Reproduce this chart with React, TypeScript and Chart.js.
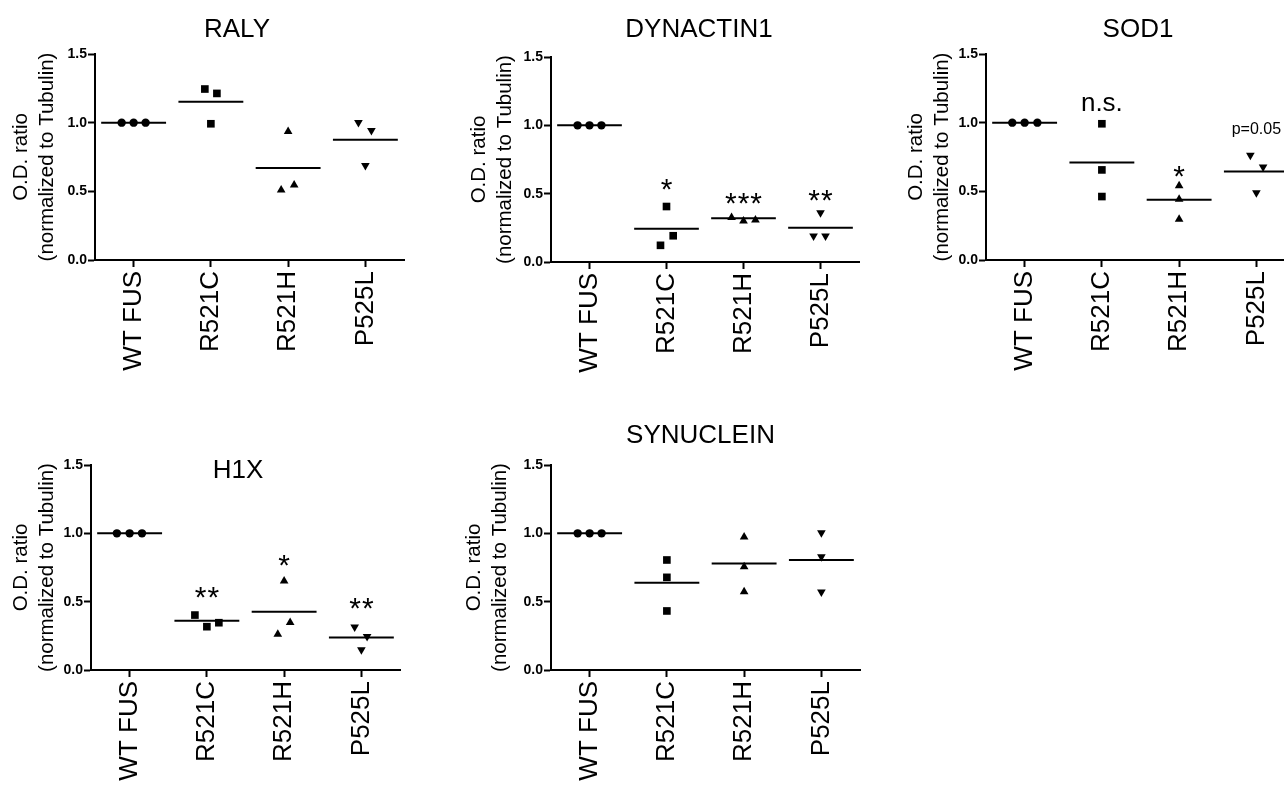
import React, { useEffect, useRef } from 'react';
import { Chart, registerables } from 'chart.js';

Chart.register(...registerables);

// ---------- data ----------
const categories = ['WT FUS', 'R521C', 'R521H', 'P525L'];
const yTickValues = [0, 0.5, 1.0, 1.5];

const ralyValues = [[1, 1, 1], [1.245, 1.213, 0.992], [0.936, 0.51, 0.547], [1.002, 0.943, 0.688]];
const ralyJitter = [[-0.155, 0, 0.155], [-0.078, 0.078, 0], [0, -0.09, 0.078], [-0.09, 0.078, 0]];
const ralyMeans = [1.0, 1.152, 0.669, 0.875];
const ralyMarks = [null, null, null, null];
const ralyMarkY = [null, null, null, null];

const dynactinValues = [[1, 1, 1], [0.406, 0.192, 0.122], [0.325, 0.3, 0.308], [0.36, 0.19, 0.19]];
const dynactinJitter = [[-0.155, 0, 0.155], [0, 0.087, -0.078], [-0.155, 0, 0.155], [0, -0.09, 0.065]];
const dynactinMeans = [1.0, 0.243, 0.321, 0.25];
const dynactinMarks = [null, '*', '***', '**'];
const dynactinMarkY = [null, 0.564, 0.467, 0.484];

const sod1Values = [[1, 1, 1], [0.992, 0.656, 0.462], [0.54, 0.443, 0.297], [0.763, 0.678, 0.49]];
const sod1Jitter = [[-0.16, 0, 0.165], [0, 0, 0], [0, 0, 0], [-0.078, 0.087, 0]];
const sod1Means = [1.0, 0.71, 0.438, 0.644];
const sod1Marks = [null, 'n.s.', '*', 'p=0.05'];
const sod1MarkY = [null, 1.136, 0.644, 0.95];

const h1xValues = [[1, 1, 1], [0.402, 0.317, 0.346], [0.652, 0.261, 0.347], [0.314, 0.246, 0.148]];
const h1xJitter = [[-0.165, 0, 0.16], [-0.155, 0, 0.155], [0, -0.082, 0.078], [-0.087, 0.074, 0]];
const h1xMeans = [1.0, 0.361, 0.427, 0.237];
const h1xMarks = [null, '**', '*', '**'];
const h1xMarkY = [null, 0.565, 0.8, 0.487];

const synucleinValues = [[1, 1, 1], [0.805, 0.678, 0.432], [0.973, 0.756, 0.573], [1.004, 0.829, 0.57]];
const synucleinJitter = [[-0.155, 0, 0.155], [0, 0, 0], [0, 0, 0], [0, 0, 0]];
const synucleinMeans = [1.0, 0.639, 0.78, 0.805];
const synucleinMarks = [null, null, null, null];
const synucleinMarkY = [null, null, null, null];

// ---------- styles / layout ----------
const FONT = "Arial, 'Liberation Sans', sans-serif";
const markerStyles = ['circle', 'rect', 'triangle', 'triangle'];
const markerRotations = [0, 0, 0, 180];
const markerRadii = [4.2, 5.4, 5, 5];
const MEAN_HALF = 0.42;
const YW = 92; // width reserved for y axis
const PT = 54; // top padding
const PR = 20; // right padding
const XH = 125; // x axis height

type Panel = {
  title: string;
  values: number[][];
  jitter: number[][];
  means: number[];
  marks: (string | null)[];
  markY: (number | null)[];
  rect: { L: number; T: number; R: number; B: number };
  titleDx: number;
  titleDy: number;
  yTitlePad: number;
};

const panels: Panel[] = [
  { title: 'RALY', values: ralyValues, jitter: ralyJitter, means: ralyMeans, marks: ralyMarks, markY: ralyMarkY,
    rect: { L: 95, T: 54, R: 404, B: 260 }, titleDx: -12.5, titleDy: -17.3, yTitlePad: 5 },
  { title: 'DYNACTIN1', values: dynactinValues, jitter: dynactinJitter, means: dynactinMeans, marks: dynactinMarks, markY: dynactinMarkY,
    rect: { L: 551, T: 57, R: 859, B: 262 }, titleDx: -6, titleDy: -20.3, yTitlePad: 7 },
  { title: 'SOD1', values: sod1Values, jitter: sod1Jitter, means: sod1Means, marks: sod1Marks, markY: sod1MarkY,
    rect: { L: 986, T: 54, R: 1295, B: 260 }, titleDx: -2.5, titleDy: -17.3, yTitlePad: 9 },
  { title: 'H1X', values: h1xValues, jitter: h1xJitter, means: h1xMeans, marks: h1xMarks, markY: h1xMarkY,
    rect: { L: 91, T: 465, R: 400, B: 670 }, titleDx: -7.5, titleDy: 13.3, yTitlePad: 9 },
  { title: 'SYNUCLEIN', values: synucleinValues, jitter: synucleinJitter, means: synucleinMeans, marks: synucleinMarks, markY: synucleinMarkY,
    rect: { L: 551, T: 465, R: 860, B: 670 }, titleDx: -5, titleDy: -21.7, yTitlePad: 2 },
];

function makeTextPlugin(panel: Panel) {
  return {
    id: 'panelText',
    afterDraw(chart: any) {
      const { ctx, chartArea, scales } = chart;
      ctx.save();
      ctx.fillStyle = '#000';
      ctx.textAlign = 'center';
      ctx.textBaseline = 'alphabetic';
      ctx.font = `26px ${FONT}`;
      ctx.fillText(panel.title, (chartArea.left + chartArea.right) / 2 + panel.titleDx, chartArea.top + panel.titleDy);
      panel.marks.forEach((m, i) => {
        const yv = panel.markY[i];
        if (!m || yv === null || yv === undefined) return;
        const isStar = /^\*+$/.test(m);
        const size = isStar ? 30 : m === 'n.s.' ? 26 : 16;
        const ls = isStar ? 1 : 0;
        ctx.font = `${size}px ${FONT}`;
        (ctx as any).letterSpacing = `${ls}px`;
        const met = ctx.measureText(m);
        const cy = scales.y.getPixelForValue(yv);
        const baseline = cy + (met.actualBoundingBoxAscent - met.actualBoundingBoxDescent) / 2;
        ctx.fillText(m, scales.x.getPixelForValue(i) + ls / 2, baseline);
        (ctx as any).letterSpacing = '0px';
      });
      ctx.restore();
    },
  };
}

function PanelChart({ panel }: { panel: Panel }) {
  const ref = useRef<HTMLCanvasElement>(null);
  const { L, T, R, B } = panel.rect;
  const left = L - YW;
  const top = T - PT;
  const width = R - L + YW + PR;
  const height = B - T + PT + XH;

  useEffect(() => {
    if (!ref.current) return;
    const datasets: any[] = [];
    categories.forEach((_, i) => {
      datasets.push({
        data: [{ x: i - MEAN_HALF, y: panel.means[i] }, { x: i + MEAN_HALF, y: panel.means[i] }],
        showLine: true,
        borderColor: '#000',
        borderWidth: 2,
        pointRadius: 0,
        fill: false,
      });
      datasets.push({
        data: panel.values[i].map((v, k) => ({ x: i + panel.jitter[i][k], y: v })),
        showLine: false,
        pointStyle: markerStyles[i],
        pointRotation: markerRotations[i],
        pointRadius: markerRadii[i],
        pointBackgroundColor: '#000',
        pointBorderColor: '#000',
        pointBorderWidth: 0,
      });
    });

    const chart = new Chart(ref.current, {
      type: 'scatter',
      data: { datasets },
      plugins: [makeTextPlugin(panel)],
      options: {
        animation: false,
        responsive: false,
        maintainAspectRatio: false,
        devicePixelRatio: 1,
        events: [],
        layout: { padding: { left: 0, top: PT, right: PR, bottom: 0 } },
        plugins: { legend: { display: false }, tooltip: { enabled: false }, title: { display: false } },
        scales: {
          x: {
            type: 'linear',
            min: -0.5,
            max: 3.5,
            afterBuildTicks: (s: any) => {
              s.ticks = categories.map((_, i) => ({ value: i }));
            },
            afterFit: (s: any) => {
              s.height = XH;
            },
            grid: { display: true, drawOnChartArea: false, drawTicks: true, tickLength: 7, tickWidth: 2, tickColor: '#000' },
            border: { display: true, color: '#000', width: 2 },
            ticks: {
              autoSkip: false,
              minRotation: 90,
              maxRotation: 90,
              padding: 4,
              color: '#000',
              font: { family: FONT, size: 26 },
              callback: (v: any) => categories[Math.round(Number(v))],
            },
          },
          y: {
            type: 'linear',
            min: 0,
            max: 1.5,
            afterBuildTicks: (s: any) => {
              s.ticks = yTickValues.map((v) => ({ value: v }));
            },
            afterFit: (s: any) => {
              s.width = YW;
            },
            grid: { display: true, drawOnChartArea: false, drawTicks: true, tickLength: 7, tickWidth: 2, tickColor: '#000' },
            border: { display: true, color: '#000', width: 2 },
            ticks: {
              padding: 1,
              color: '#000',
              font: { family: FONT, size: 14, weight: 'bold' },
              callback: (v: any) => Number(v).toFixed(1),
            },
            title: {
              display: true,
              text: ['O.D. ratio', '(normalized to Tubulin)'],
              color: '#000',
              font: { family: FONT, size: 20.5, lineHeight: 1.27 },
              padding: { top: panel.yTitlePad, bottom: 0 },
            },
          },
        },
      } as any,
    });
    return () => chart.destroy();
  }, [panel]);

  return (
    <canvas
      ref={ref}
      width={width}
      height={height}
      style={{ position: 'absolute', left, top, width, height, display: 'block' }}
    />
  );
}

export default function App() {
  return (
    <div
      style={{
        position: 'fixed',
        left: 0,
        top: 0,
        width: '100vw',
        height: '100vh',
        overflow: 'hidden',
        background: '#fff',
      }}
    >
      {panels.map((p) => (
        <PanelChart key={p.title} panel={p} />
      ))}
    </div>
  );
}
